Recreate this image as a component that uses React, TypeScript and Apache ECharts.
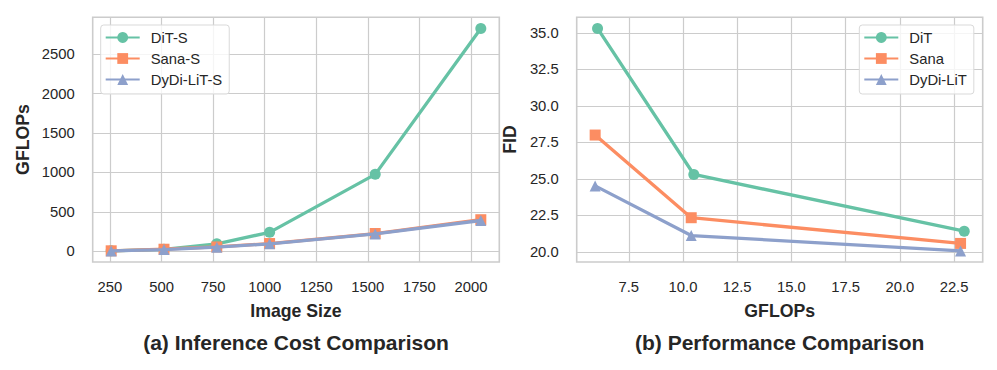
import React, { useEffect, useRef } from "react";
import * as echarts from "echarts";

// ---- Data ----
const imageSizes = [256, 512, 768, 1024, 1536, 2048];
const ditSGflops = [6, 25, 95, 240, 975, 2825];
const sanaSGflops = [6, 26, 55, 98, 225, 400];
const dydiSGflops = [5, 22, 52, 95, 220, 390];
const leftXTicks = [250, 500, 750, 1000, 1250, 1500, 1750, 2000];
const leftYTicks = [0, 500, 1000, 1500, 2000, 2500];

const ditGflops = [6.06, 10.5, 22.97];
const ditFid = [35.3, 25.3, 21.42];
const sanaGflops = [5.95, 10.38, 22.8];
const sanaFid = [28.0, 22.34, 20.58];
const dydiGflops = [5.95, 10.38, 22.8];
const dydiFid = [24.52, 21.12, 20.07];
const rightXTicks = [7.5, 10, 12.5, 15, 17.5, 20, 22.5];
const rightYTicks = [20, 22.5, 25, 27.5, 30, 32.5, 35];

const leftNames = ["DiT-S", "Sana-S", "DyDi-LiT-S"];
const rightNames = ["DiT", "Sana", "DyDi-LiT"];
const colors = ["#66c2a5", "#fc8d62", "#8da0cb"];
const symbols = ["circle", "rect", "triangle"];

const FONT = "'Liberation Sans', Arial, Helvetica, sans-serif";
const TXT = "#262626";
const GRIDC = "#cccccc";

const pad = (e: { min: number; max: number }) => e.min - 0.05 * (e.max - e.min);
const padMax = (e: { min: number; max: number }) => e.max + 0.05 * (e.max - e.min);

function zip(xs: number[], ys: number[]) {
  return xs.map((x, i) => [x, ys[i]]);
}

export default function App() {
  const ref = useRef<HTMLDivElement>(null);
  useEffect(() => {
    if (!ref.current) return;
    const chart = echarts.init(ref.current, null, { renderer: "svg" });

    const axisCommon = (ticks: number[], fmt?: (v: number) => string, isX = true) => ({
      type: "value" as const,
      min: pad,
      max: padMax,
      axisLine: { show: false },
      axisTick: { show: false, customValues: ticks },
      splitLine: { show: true, lineStyle: { color: GRIDC, width: 1.2 } },
      axisLabel: {
        customValues: ticks,
        color: TXT,
        fontSize: 14.8,
        fontFamily: FONT,
        margin: isX ? 17 : 18,
        formatter: fmt ? (v: number) => fmt(v) : (v: number) => String(v),
      },
    });

    const gridTop = 17.3;
    const gridH = 244.7;

    const leftSeries = [ditSGflops, sanaSGflops, dydiSGflops].map((ys, i) => ({
      name: leftNames[i],
      type: "line" as const,
      xAxisIndex: 0,
      yAxisIndex: 0,
      data: zip(imageSizes, ys),
      symbol: symbols[i],
      symbolSize: 11,
      showSymbol: true,
      lineStyle: { color: colors[i], width: 3.3 },
      itemStyle: { color: colors[i] },
      z: 3 + i,
    }));
    const rightSeries = [
      [ditGflops, ditFid],
      [sanaGflops, sanaFid],
      [dydiGflops, dydiFid],
    ].map(([xs, ys], i) => ({
      name: rightNames[i],
      type: "line" as const,
      xAxisIndex: 1,
      yAxisIndex: 1,
      data: zip(xs, ys),
      symbol: symbols[i],
      symbolSize: 11,
      showSymbol: true,
      lineStyle: { color: colors[i], width: 3.3 },
      itemStyle: { color: colors[i] },
      z: 3 + i,
    }));

    const legendCommon = {
      orient: "vertical" as const,
      itemWidth: 34,
      itemHeight: 13.5,
      itemGap: 6,
      padding: [5, 7, 7, 4],
      backgroundColor: "rgba(255,255,255,0.8)",
      borderColor: "#d9d9d9",
      borderWidth: 1,
      borderRadius: 3,
      textStyle: { color: TXT, fontSize: 14.8, fontFamily: FONT, padding: [0, 0, 0, 6] },
    };

    const titleText = (text: string, x: number, y: number, size: number, rot = 0) => ({
      type: "text" as const,
      x,
      y,
      rotation: rot,
      style: {
        text,
        fill: TXT,
        font: `bold ${size}px ${FONT}`,
        align: "center",
        verticalAlign: "middle",
      },
    });

    chart.setOption({
      animation: false,
      backgroundColor: "#ffffff",
      grid: [
        { left: 92.7, top: gridTop, width: 406.6, height: gridH, show: true, borderColor: GRIDC, borderWidth: 1.6, backgroundColor: "transparent" },
        { left: 576.7, top: gridTop, width: 406, height: gridH, show: true, borderColor: GRIDC, borderWidth: 1.6, backgroundColor: "transparent" },
      ],
      xAxis: [
        { ...axisCommon(leftXTicks, undefined, true), gridIndex: 0 },
        { ...axisCommon(rightXTicks, (v) => v.toFixed(1), true), gridIndex: 1 },
      ],
      yAxis: [
        { ...axisCommon(leftYTicks, undefined, false), gridIndex: 0 },
        { ...axisCommon(rightYTicks, (v) => v.toFixed(1), false), gridIndex: 1 },
      ],
      legend: [
        { ...legendCommon, data: leftNames, left: 100.7, top: 25 },
        { ...legendCommon, data: rightNames, left: 859.3, top: 25 },
      ],
      series: [...leftSeries, ...rightSeries],
      graphic: [
        titleText("Image Size", 296, 311, 17.7),
        titleText("GFLOPs", 779.7, 311, 17.7),
        titleText("(a) Inference Cost Comparison", 296, 342, 21),
        titleText("(b) Performance Comparison", 779.7, 342, 21),
        titleText("GFLOPs", 22.5, 139.5, 17.7, Math.PI / 2),
        titleText("FID", 510, 139.5, 17.7, Math.PI / 2),
      ],
    });
    return () => chart.dispose();
  }, []);
  return (
    <div
      ref={ref}
      style={{ position: "absolute", left: 0, top: 0, width: 997, height: 370 }}
    />
  );
}
